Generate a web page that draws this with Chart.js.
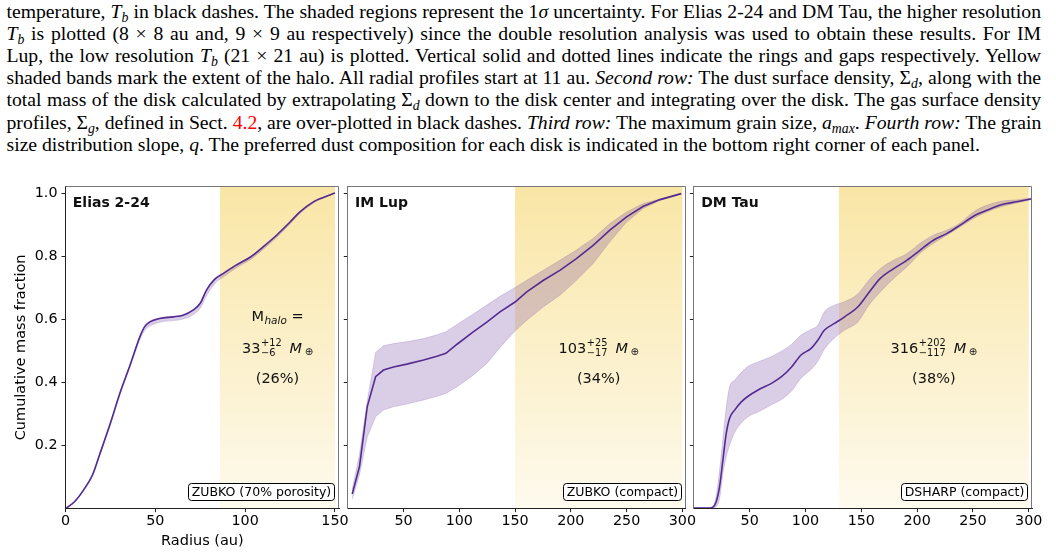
<!DOCTYPE html>
<html><head><meta charset="utf-8">
<script src="https://cdn.jsdelivr.net/npm/chart.js@4.4.1/dist/chart.umd.min.js"></script>
<style>
html,body{margin:0;padding:0;background:#fff;width:1056px;height:555px;overflow:hidden;position:relative}
.cap{position:absolute;left:6.5px;width:1034.5px;font-family:"Liberation Serif","Times New Roman",serif;font-size:19.7px;line-height:22.2px;white-space:nowrap;text-align:justify;text-align-last:justify;color:#000}
.cap.last{text-align-last:left}
.cap sub{font-size:70%;vertical-align:-0.28em;line-height:0}
canvas{position:absolute;left:0;top:180px}
</style></head><body>
<div class="cap" style="top:-0.45px">temperature, <i>T</i><sub><i>b</i></sub> in black dashes. The shaded regions represent the 1<i>σ</i> uncertainty. For Elias 2-24 and DM Tau, the higher resolution</div>
<div class="cap" style="top:21.75px"><i>T</i><sub><i>b</i></sub> is plotted (8 × 8 au and, 9 × 9 au respectively) since the double resolution analysis was used to obtain these results. For IM</div>
<div class="cap" style="top:43.95px">Lup, the low resolution <i>T</i><sub><i>b</i></sub> (21 × 21 au) is plotted. Vertical solid and dotted lines indicate the rings and gaps respectively. Yellow</div>
<div class="cap" style="top:66.15px">shaded bands mark the extent of the halo. All radial profiles start at 11 au. <i>Second row:</i> The dust surface density, Σ<sub><i>d</i></sub>, along with the</div>
<div class="cap" style="top:88.35px">total mass of the disk calculated by extrapolating Σ<sub><i>d</i></sub> down to the disk center and integrating over the disk. The gas surface density</div>
<div class="cap" style="top:110.55px">profiles, Σ<sub><i>g</i></sub>, defined in Sect. <span style="color:#f00">4.2</span>, are over-plotted in black dashes. <i>Third row:</i> The maximum grain size, <i>a</i><sub><i>max</i></sub>. <i>Fourth row:</i> The grain</div>
<div class="cap last" style="top:132.75px">size distribution slope, <i>q</i>. The preferred dust composition for each disk is indicated in the bottom right corner of each panel.</div>
<canvas id="c0" width="1056" height="375"></canvas>
<canvas id="c1" width="1056" height="375"></canvas>
<canvas id="c2" width="1056" height="375"></canvas>
<script>
// ---------------- data ----------------
const yTicks = [0.2, 0.4, 0.6, 0.8, 1.0];
const xTicksElias = [0, 50, 100, 150];
const xTicksWide = [50, 100, 150, 200, 250, 300];

const eliasR   = [0.5, 5, 10, 15, 19, 25, 30, 36, 41.5, 44, 47, 52.5, 60, 65.5, 71, 75, 78.5, 83, 88, 95, 103, 110, 117.5, 125, 130.5, 138, 143.5, 150];
const eliasMid = [0.0, 0.02, 0.057, 0.105, 0.17, 0.27, 0.36, 0.455, 0.545, 0.575, 0.591, 0.602, 0.607, 0.612, 0.628, 0.65, 0.692, 0.726, 0.745, 0.771, 0.797, 0.829, 0.866, 0.908, 0.94, 0.972, 0.986, 1.0];
const eliasLo  = [0.0, 0.018, 0.054, 0.1, 0.165, 0.264, 0.354, 0.448, 0.536, 0.563, 0.578, 0.59, 0.595, 0.6, 0.614, 0.634, 0.674, 0.712, 0.734, 0.762, 0.789, 0.821, 0.859, 0.902, 0.935, 0.968, 0.984, 1.0];
const eliasHi  = [0.001, 0.021, 0.058, 0.107, 0.172, 0.272, 0.362, 0.457, 0.547, 0.578, 0.594, 0.604, 0.609, 0.614, 0.63, 0.653, 0.695, 0.729, 0.748, 0.773, 0.799, 0.831, 0.868, 0.909, 0.941, 0.973, 0.987, 1.0];

const imlupR   = [4, 10.5, 17.5, 25, 32, 41, 53, 68, 80, 88, 98, 112.5, 125, 136.5, 150, 160.5, 175.5, 190.5, 205, 220, 235, 250, 265, 280, 299];
const imlupMid = [0.045, 0.131, 0.322, 0.417, 0.438, 0.448, 0.457, 0.47, 0.482, 0.491, 0.52, 0.559, 0.591, 0.623, 0.654, 0.686, 0.723, 0.755, 0.792, 0.834, 0.882, 0.924, 0.958, 0.979, 0.998];
const imlupHi  = [0.06, 0.17, 0.34, 0.494, 0.515, 0.522, 0.528, 0.538, 0.55, 0.56, 0.583, 0.616, 0.645, 0.672, 0.70, 0.723, 0.755, 0.787, 0.819, 0.856, 0.903, 0.94, 0.967, 0.981, 0.999];
const imlupLo  = [0.028, 0.105, 0.226, 0.29, 0.311, 0.322, 0.33, 0.343, 0.355, 0.364, 0.385, 0.422, 0.46, 0.51, 0.562, 0.596, 0.639, 0.676, 0.723, 0.776, 0.845, 0.908, 0.951, 0.977, 0.997];

const dmtauR   = [0, 12.5, 17, 20, 23, 26, 29, 32, 36.5, 42.5, 48.5, 57.5, 69.5, 78.5, 87.5, 96, 105, 111, 117, 126, 135, 147, 157, 167, 179, 191, 202.5, 214.5, 226.5, 238.5, 250.5, 262.5, 277, 289, 303];
const dmtauMid = [0, 0, 0.003, 0.02, 0.068, 0.153, 0.237, 0.285, 0.311, 0.337, 0.355, 0.375, 0.396, 0.417, 0.448, 0.486, 0.507, 0.533, 0.565, 0.586, 0.607, 0.639, 0.685, 0.729, 0.76, 0.787, 0.818, 0.85, 0.871, 0.898, 0.926, 0.945, 0.964, 0.972, 0.982];
const dmtauHi  = [0, 0, 0.005, 0.04, 0.12, 0.22, 0.32, 0.385, 0.406, 0.43, 0.45, 0.464, 0.481, 0.498, 0.52, 0.549, 0.567, 0.58, 0.623, 0.644, 0.655, 0.68, 0.725, 0.76, 0.787, 0.808, 0.84, 0.866, 0.882, 0.905, 0.94, 0.961, 0.975, 0.978, 0.985];
const dmtauLo  = [0, 0, 0, 0.005, 0.03, 0.11, 0.163, 0.2, 0.24, 0.27, 0.29, 0.305, 0.328, 0.345, 0.372, 0.412, 0.44, 0.466, 0.505, 0.54, 0.565, 0.591, 0.645, 0.686, 0.729, 0.766, 0.808, 0.84, 0.866, 0.892, 0.919, 0.94, 0.958, 0.968, 0.98];

const haloElias = [86, 150];
const haloIMLup = [150, 300];
const haloDMTau = [130, 300];

const diskNames  = ['Elias 2-24', 'IM Lup', 'DM Tau'];
const dustModels = ['ZUBKO (70% porosity)', 'ZUBKO (compact)', 'DSHARP (compact)'];
const haloMass   = ['33', '103', '316'];
const haloPlus   = ['+12', '+25', '+202'];
const haloMinus  = ['\u22126', '\u221217', '\u2212117'];
const haloPct    = ['(26%)', '(34%)', '(38%)'];

// ---------------- drawing ----------------
const FONT = '"DejaVu Sans", sans-serif';
const LINE = '#4f2a8e';
const SHADE = 'rgba(102,51,153,0.24)';
const xMaxs = [152.4, 303, 303.2];
const yWidths = [65.5, 4.75, 4.9];
const pads = [
  {left: 0, right: 716.7, top: 6.7, bottom: 0},
  {left: 343, right: 370.3, top: 6.7, bottom: 0},
  {left: 689, right: 23.7, top: 6.7, bottom: 0}
];
function pts(r, v) { return r.map((x, i) => ({x: x, y: v[i]})); }

function drawMass(ctx, cx, cy, main, sup, sub) {
  const fB = '14.5px ' + FONT, fS = '9.8px ' + FONT, fI = 'italic 14.5px ' + FONT, fO = '10px ' + FONT;
  ctx.font = fB; const wMain = ctx.measureText(main).width;
  ctx.font = fS; const wScr = Math.max(ctx.measureText(sup).width, ctx.measureText(sub).width);
  ctx.font = fI; const wM = ctx.measureText('M').width;
  ctx.font = fO; const wO = ctx.measureText('\u2295').width;
  const g1 = 0.5, g2 = 8, g3 = 2.5;
  const tot = wMain + g1 + wScr + g2 + wM + g3 + wO;
  let x = cx - tot / 2; const b = cy + 5.3;
  ctx.textAlign = 'left'; ctx.textBaseline = 'alphabetic';
  ctx.font = fB; ctx.fillText(main, x, b); x += wMain + g1;
  ctx.font = fS; ctx.fillText(sup, x, b - 6.3); ctx.fillText(sub, x, b + 3.3); x += wScr + g2;
  ctx.font = fI; ctx.fillText('M', x, b); x += wM + g3;
  ctx.font = fO; ctx.fillText('\u2295', x, b + 2.3);
}
function drawMhalo(ctx, cx, cy) {
  const fB = '14.5px ' + FONT, fI = 'italic 10.5px ' + FONT;
  ctx.font = fB; const wM = ctx.measureText('M').width; const wEq = ctx.measureText(' =').width;
  ctx.font = fI; const wH = ctx.measureText('halo').width;
  const tot = wM + 0.5 + wH + wEq;
  let x = cx - tot / 2; const b = cy + 5.3;
  ctx.textAlign = 'left'; ctx.textBaseline = 'alphabetic';
  ctx.font = fB; ctx.fillText('M', x, b); x += wM + 0.5;
  ctx.font = fI; ctx.fillText('halo', x, b + 3); x += wH;
  ctx.font = fB; ctx.fillText(' =', x, b);
}

const deco = {
  id: 'deco',
  beforeDatasetsDraw(chart, args, o) {
    const {ctx, chartArea: a, scales: {x}} = chart;
    const x0 = x.getPixelForValue(o.halo[0]), x1 = x.getPixelForValue(o.halo[1]);
    const g = ctx.createLinearGradient(0, a.top, 0, a.bottom);
    g.addColorStop(0, 'rgba(242,200,60,0.46)');
    g.addColorStop(1, 'rgba(242,200,60,0.09)');
    ctx.save(); ctx.fillStyle = g; ctx.fillRect(x0, a.top, x1 - x0, a.bottom - a.top); ctx.restore();
  },
  afterDatasetsDraw(chart, args, o) {
    const {ctx, chartArea: a, scales: {x}} = chart;
    const i = o.idx;
    ctx.save();
    ctx.fillStyle = '#111';
    ctx.font = 'bold 14px ' + FONT; ctx.textAlign = 'left'; ctx.textBaseline = 'alphabetic';
    ctx.fillText(diskNames[i], a.left + 7.3, a.top + 20.5);
    const cx = x.getPixelForValue((o.halo[0] + o.halo[1]) / 2);
    const H = a.bottom - a.top;
    if (i === 0) drawMhalo(ctx, cx, a.bottom - 0.6 * H);
    drawMass(ctx, cx, a.bottom - 0.5 * H, haloMass[i], haloPlus[i], haloMinus[i]);
    ctx.font = '14.5px ' + FONT; ctx.textAlign = 'center'; ctx.textBaseline = 'middle';
    ctx.fillText(haloPct[i], cx, a.bottom - 0.4 * H);
    // composition box
    ctx.font = '12.5px ' + FONT;
    const tw = ctx.measureText(dustModels[i]).width;
    const bw = tw + 6.5, bh = 17.4;
    const bx = a.right - 4.8 - bw, by = a.bottom - 7.4 - bh;
    ctx.beginPath(); ctx.roundRect(Math.round(bx) + 0.5, Math.round(by) + 0.5, Math.round(bw), Math.round(bh), 3);
    ctx.fillStyle = '#fff'; ctx.fill();
    ctx.strokeStyle = '#000'; ctx.lineWidth = 1; ctx.stroke();
    ctx.fillStyle = '#000'; ctx.textAlign = 'center'; ctx.textBaseline = 'middle';
    ctx.fillText(dustModels[i], Math.round(bx) + 0.5 + Math.round(bw) / 2, Math.round(by) + 0.5 + bh / 2 + 0.5);
    ctx.restore();
  },
  afterDraw(chart, args, o) {
    const {ctx, chartArea: a} = chart;
    ctx.save();
    ctx.strokeStyle = '#777'; ctx.lineWidth = 1;
    const t = Math.floor(a.top) + 0.5, r = Math.round(a.right) - 0.5;
    ctx.beginPath(); ctx.moveTo(a.left, t); ctx.lineTo(r, t); ctx.lineTo(r, a.bottom); ctx.stroke();
    ctx.restore();
  }
};

function makePanel(idx, r, mid, lo, hi, halo, mode) {
  const first = idx === 0;
  const common = {pointRadius: 0, cubicInterpolationMode: mode, tension: 0};
  return new Chart(document.getElementById('c' + idx), {
    type: 'line',
    data: {datasets: [
      Object.assign({data: pts(r, hi), fill: '+1', backgroundColor: SHADE, borderColor: SHADE, borderWidth: 0.8}, common),
      Object.assign({data: pts(r, lo), fill: false, backgroundColor: SHADE, borderColor: SHADE, borderWidth: 0.8}, common),
      Object.assign({data: pts(r, mid), fill: false, borderColor: LINE, borderWidth: 1.6}, common)
    ]},
    options: {
      responsive: false, animation: false, devicePixelRatio: 1, events: [],
      layout: {padding: pads[idx]},
      plugins: {legend: {display: false}, tooltip: {enabled: false}, deco: {idx: idx, halo: halo}},
      scales: {
        x: {
          type: 'linear', min: 0, max: xMaxs[idx],
          afterBuildTicks: s => { s.ticks = (first ? xTicksElias : xTicksWide).map(v => ({value: v})); },
          afterFit: s => { s.height = 46.9; s.paddingLeft = 0; s.paddingRight = 0; },
          ticks: {color: '#000', font: {family: FONT, size: 14.3}, padding: 1, maxRotation: 0, autoSkip: false, callback: v => String(v)},
          grid: {drawOnChartArea: false, drawTicks: true, tickLength: 4, tickColor: '#222', tickWidth: 1},
          border: {display: true, color: '#222', width: 1},
          title: {display: first, text: 'Radius (au)', color: '#000', font: {family: FONT, size: 14.5}, padding: {top: 0, bottom: 4.8}}
        },
        y: {
          type: 'linear', min: 0, max: 1.02,
          afterBuildTicks: s => { s.ticks = yTicks.map(v => ({value: v})); },
          afterFit: s => { s.width = yWidths[idx]; s.paddingTop = 0; s.paddingBottom = 0; },
          ticks: {display: first, color: '#000', font: {family: FONT, size: 14.3}, padding: 4, callback: v => Number(v).toFixed(1)},
          grid: {drawOnChartArea: false, drawTicks: true, tickLength: 4, tickColor: '#222', tickWidth: 1},
          border: {display: true, color: first ? '#222' : '#777', width: 1},
          title: {display: first, text: 'Cumulative mass fraction', color: '#000', font: {family: FONT, size: 14.5}, padding: {top: 12.3, bottom: 0}}
        }
      }
    },
    plugins: [deco]
  });
}

makePanel(0, eliasR, eliasMid, eliasLo, eliasHi, haloElias, 'monotone');
makePanel(1, imlupR, imlupMid, imlupLo, imlupHi, haloIMLup, 'default');
makePanel(2, dmtauR, dmtauMid, dmtauLo, dmtauHi, haloDMTau, 'monotone');
</script>
</body></html>
